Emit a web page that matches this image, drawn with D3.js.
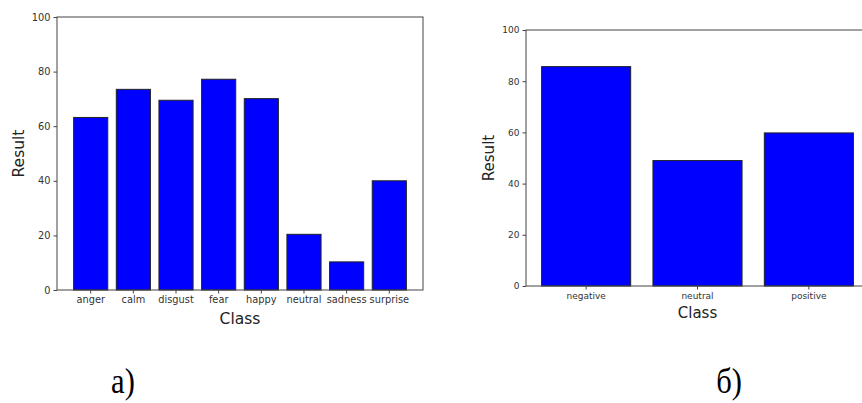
<!DOCTYPE html>
<html>
<head>
<meta charset="utf-8">
<script src="https://cdn.jsdelivr.net/npm/d3@7"></script>
<style>
  body { margin: 0; background: #fff; }
  svg { display: block; }
</style>
</head>
<body>
<script>
// panel a) - emotion classes
var emoClasses = ["anger", "calm", "disgust", "fear", "happy", "neutral", "sadness", "surprise"];
var emoValues = [63.2, 73.5, 69.5, 77.2, 70.1, 20.4, 10.3, 40.0];

// panel b) - sentiment classes
var sentClasses = ["negative", "neutral", "positive"];
var sentValues = [85.7, 49.0, 59.8];

var yTicks = [0, 20, 40, 60, 80, 100];

var width = 862;
var height = 403;

var svg = d3.select("body")
            .append("svg")
            .attr("width", width)
            .attr("height", height);

function drawPanel(opts) {
    var x = d3.scaleBand()
              .domain(opts.classes)
              .range([opts.left, opts.right])
              .paddingInner(0.2)
              .paddingOuter(opts.outer);

    var y = d3.scaleLinear()
              .domain([0, 100])
              .range([opts.bottom, opts.top]);

    var g = svg.append("g");

    // bars
    g.selectAll("rect.bar")
     .data(opts.values)
     .enter()
     .append("rect")
     .attr("class", "bar")
     .attr("x", function(d, i) { return x(opts.classes[i]); })
     .attr("y", function(d) { return y(d); })
     .attr("width", x.bandwidth())
     .attr("height", function(d) { return y(0) - y(d); })
     .attr("fill", "#0000ff")
     .attr("stroke", "#222")
     .attr("stroke-width", 1);

    // axes
    var xAxis = d3.axisBottom(x).tickSize(3.5).tickPadding(3);
    var yAxis = d3.axisLeft(y).tickValues(yTicks).tickSize(3.5).tickPadding(3);

    var gx = g.append("g")
              .attr("transform", "translate(0," + opts.bottom + ")")
              .call(xAxis);
    var gy = g.append("g")
              .attr("transform", "translate(" + opts.left + ",0)")
              .call(yAxis);

    [gx, gy].forEach(function(a) {
        a.select(".domain").remove();
        a.selectAll("line").attr("stroke", "#444");
        a.selectAll("text")
         .attr("fill", "#333")
         .attr("font-family", "DejaVu Sans")
         .style("font-size", opts.tickFont + "px");
    });

    // frame
    g.append("rect")
     .attr("x", opts.left)
     .attr("y", opts.top)
     .attr("width", opts.right - opts.left)
     .attr("height", opts.bottom - opts.top)
     .attr("fill", "none")
     .attr("stroke", "#444")
     .attr("stroke-width", 1);

    // axis titles
    g.append("text")
     .attr("x", (opts.left + opts.right) / 2 + opts.classDx)
     .attr("y", opts.classY)
     .attr("text-anchor", "middle")
     .attr("font-family", "DejaVu Sans")
     .attr("font-size", opts.titleFont + "px")
     .attr("fill", "#222")
     .text("Class");

    g.append("text")
     .attr("transform", "translate(" + opts.resultX + "," + ((opts.top + opts.bottom) / 2) + ") rotate(-90)")
     .attr("text-anchor", "middle")
     .attr("font-family", "DejaVu Sans")
     .attr("font-size", opts.titleFont + "px")
     .attr("fill", "#222")
     .text("Result");

    // caption
    svg.append("text")
       .attr("transform", "translate(" + opts.capX + ",393) scale(0.85,1)")
       .attr("text-anchor", "middle")
       .attr("font-family", "Liberation Serif")
       .attr("font-size", "36px")
       .attr("fill", "#000")
       .text(opts.caption);
}

drawPanel({
    classes: emoClasses, values: emoValues,
    left: 57, right: 423, top: 17, bottom: 290, outer: 0.39,
    tickFont: 9.8, titleFont: 15.5, classY: 324, classDx: 0, resultX: 23.5,
    caption: "а)", capX: 123
});

drawPanel({
    classes: sentClasses, values: sentValues,
    left: 526, right: 869, top: 30, bottom: 286, outer: 0.14,
    tickFont: 9, titleFont: 15, classY: 318, classDx: 0, resultX: 494,
    caption: "б)", capX: 729
});
</script>
</body>
</html>
